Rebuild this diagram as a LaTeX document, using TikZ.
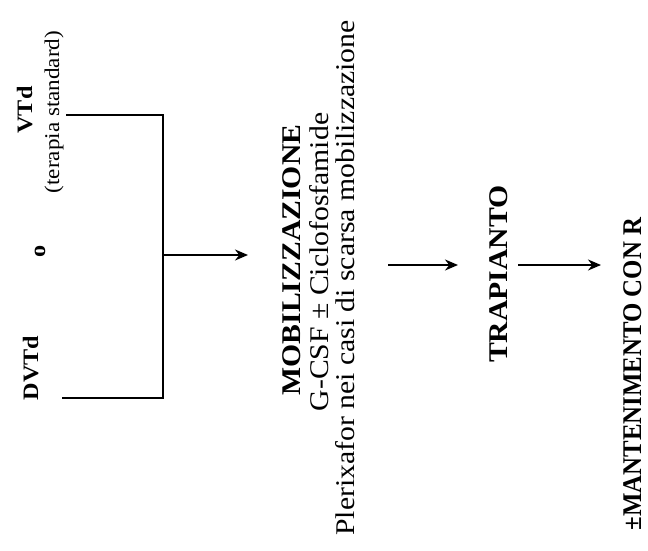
\documentclass[tikz,border=0pt]{standalone}
\usepackage{fontspec}
\setmainfont{Liberation Serif}
\newfontfamily\wfont[FakeStretch=1.1]{Liberation Serif}
\newfontfamily\cfont[FakeStretch=0.92]{Liberation Serif}
\usetikzlibrary{arrows.meta}
\begin{document}
\begin{tikzpicture}[x=1pt,y=-1pt,
  lbl/.style={rotate=90, anchor=base, inner sep=0pt},
  small/.style={lbl, font=\wfont\fontsize{21}{24}\selectfont},
  smallb/.style={lbl, font=\wfont\fontsize{22}{25}\selectfont\bfseries},
  big/.style={lbl, font=\wfont\fontsize{27}{31}\selectfont},
  bigb/.style={lbl, font=\wfont\fontsize{27}{31}\selectfont\bfseries},
  conn/.style={line width=1.8pt},
  arr/.style={conn, -{Stealth[length=13pt,width=11pt]}}]
\useasboundingbox (0,0) rectangle (648,550);
% left group
\node[smallb] (vtd) at (32,110) {VTd};
\node[small] (std) at (59,112) {(terapia standard)};
\node[smallb] (o) at (45,251) {o};
\node[smallb] (dvtd) at (38,368) {DVTd};
% bracket points
\coordinate (t0) at (66,115);
\coordinate (t1) at (163,115);
\coordinate (b0) at (62,398);
\coordinate (b1) at (163,398);
\coordinate (m0) at (163,255);
% mobilizzazione block
\node[bigb] (mob) at (300,260) {MOBILIZZAZIONE};
\node[big] (gcsf) at (328,262) {G-CSF ± Ciclofosfamide};
\node[big] (pler) at (354,278) {Plerixafor nei casi di scarsa mobilizzazione};
\node[bigb] (trap) at (507,274) {TRAPIANTO};
\node[lbl, font=\cfont\fontsize{27}{31}\selectfont\bfseries] (mant) at (641,374) {±MANTENIMENTO CON R};
% arrow end points
\coordinate (a1) at (248,255);
\coordinate (s2) at (388,265);
\coordinate (a2) at (458,265);
\coordinate (s3) at (518,265);
\coordinate (a3) at (601,265);
% connectors
\draw[conn] (t0) -- (t1) -- (b1) -- (b0);
\draw[arr] (m0) -- (a1);
\draw[arr] (s2) -- (a2);
\draw[arr] (s3) -- (a3);
\end{tikzpicture}
\end{document}
